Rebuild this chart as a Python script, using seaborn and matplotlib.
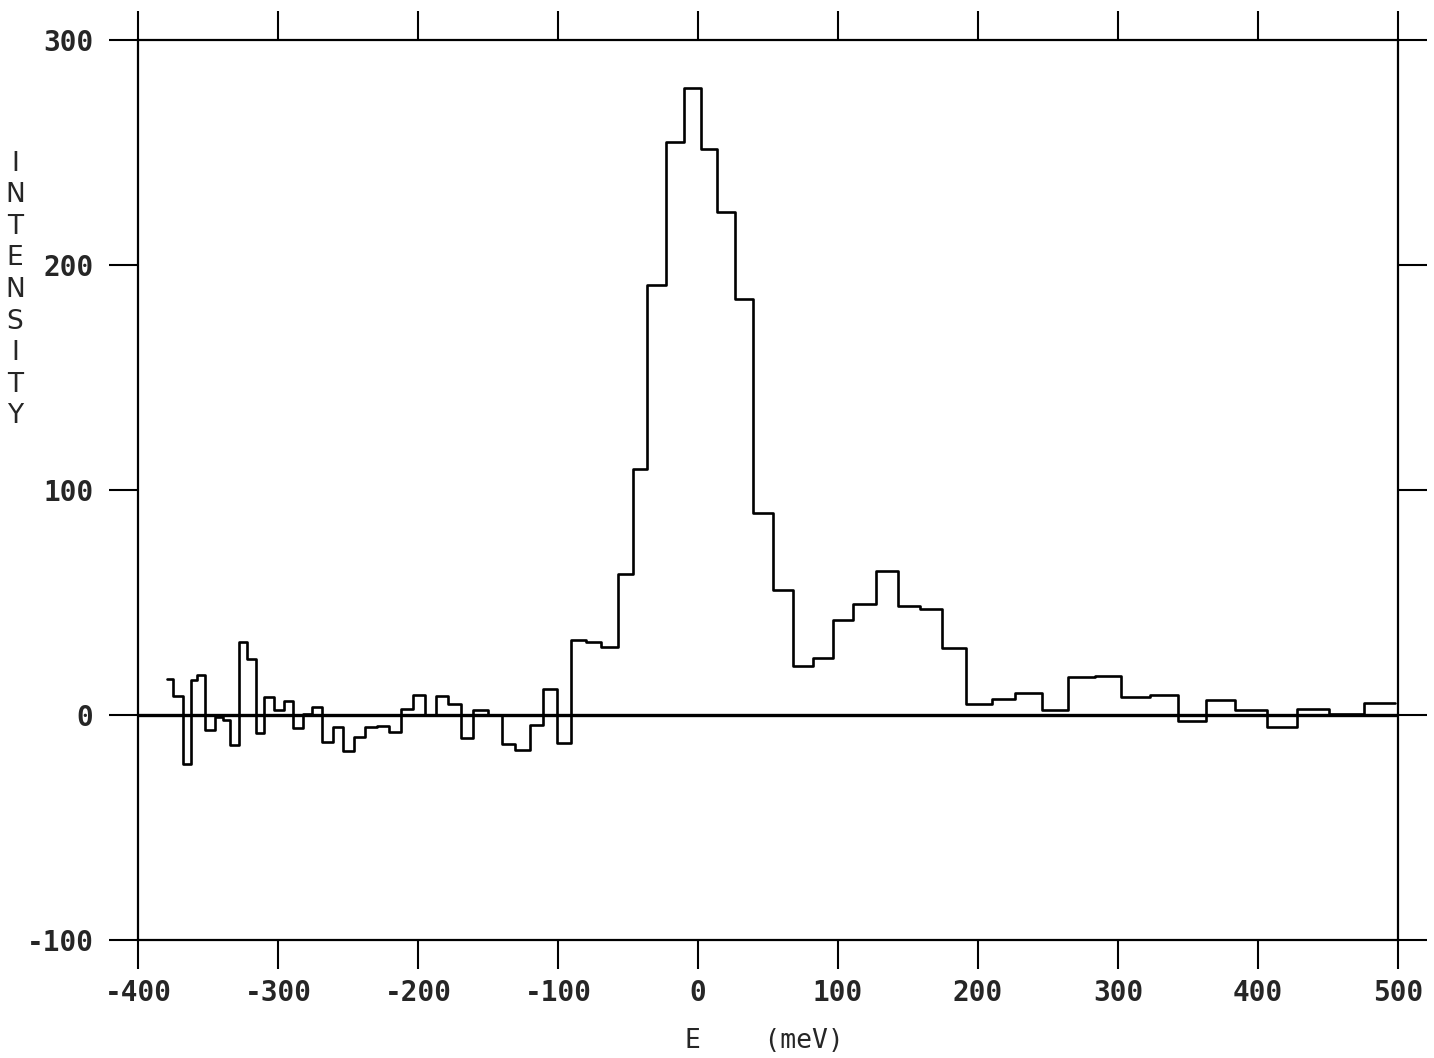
import numpy as np
import seaborn as sns
import matplotlib
matplotlib.use("Agg")
import matplotlib.pyplot as plt

# bin edges in E (meV) and the intensity of each bin
edges = [-379.5, -375.2, -368.0, -362.4, -358.0, -352.0, -345.0, -339.5, -334.3,
         -327.6, -322.4, -315.7, -309.8, -302.9, -295.7, -289.0, -282.4, -276.0,
         -268.8, -261.0, -253.3, -245.7, -237.9, -229.0, -220.5, -212.4, -203.3,
         -195.0, -187.1, -178.3, -169.5, -160.5, -149.8, -140.2, -130.7, -120.0,
         -110.7, -100.8, -90.8, -80.0, -69.3, -57.3, -46.7, -36.2, -22.9, -10.0,
         2.1, 13.3, 26.4, 39.0, 53.3, 67.6, 81.9, 96.2, 110.5, 127.1, 143.1,
         158.5, 174.0, 191.4, 209.8, 226.7, 245.5, 264.5, 283.5, 302.3, 322.9,
         343.0, 362.9, 383.6, 406.2, 428.0, 451.0, 476.0, 497.9]
intensity = [16.0, 8.4, -21.8, 15.6, 18.0, -6.7, -1.0, -2.0, -13.3,
             32.6, 24.7, -8.1, 7.9, 2.2, 6.4, -5.9, 0.3, 3.4,
             -11.9, -5.4, -15.9, -9.9, -5.4, -4.9, -7.4, 2.5, 8.9,
             0.0, 8.4, 4.9, -10.4, 2.2, 0.0, -12.9, -15.6, -4.4,
             11.4, -12.6, 33.3, 32.6, 30.1, 62.6, 109.2, 191.0, 254.6, 278.7,
             251.7, 223.4, 184.9, 90.0, 55.6, 21.8, 25.2, 42.2, 49.3, 64.0,
             48.4, 47.0, 29.9, 4.9, 7.0, 10.0, 2.2, 16.7, 17.3, 7.9,
             8.9, -2.5, 6.7, 2.2, -5.5, 2.5, 0.5, 5.5]

x_ticks = [-400, -300, -200, -100, 0, 100, 200, 300, 400, 500]
x_labels = ['-400', '-300', '-200', '-100', '0', '100', '200', '300', '400', '500']
y_ticks = [-100, 0, 100, 200, 300]
y_labels = ['-100', '0', '100', '200', '300']

sns.set_style("ticks")
plt.rcParams['font.family'] = ['DejaVu Sans Mono', 'DejaVu Sans']

centers = (np.array(edges[:-1]) + np.array(edges[1:])) / 2

fig, ax = plt.subplots(figsize=(14.34, 10.58), dpi=100)
fig.subplots_adjust(left=0.0962, right=0.9749, bottom=0.1115, top=0.9622)

sns.histplot(x=centers, weights=intensity, bins=edges, element="step",
             fill=False, color="black", linewidth=1.9, ax=ax)
ax.axhline(0, color="black", linewidth=2.4, zorder=1)

ax.set_xlim(-400, 500)
ax.set_ylim(-100, 300)
ax.set_xticks(x_ticks)
ax.set_xticklabels(x_labels, fontsize=20, fontweight="bold")
ax.set_yticks(y_ticks)
ax.set_yticklabels(y_labels, fontsize=20, fontweight="bold")
ax.tick_params(axis="both", direction="out", length=21, width=1.5, color="black",
               top=True, right=True, labeltop=False, labelright=False)
ax.tick_params(axis="x", pad=7)
ax.tick_params(axis="y", pad=11)
for s in ax.spines.values():
    s.set_visible(True)
    s.set_linewidth(1.6)
    s.set_color("black")

ax.set_ylabel("")
ax.set_xlabel("E    (meV)", fontsize=19)
ax.xaxis.set_label_coords(0.497, -0.098)

# vertical stacked axis title, as on the plotter output
fig.text(15 / 1434, 1 - 290 / 1058, "I\nN\nT\nE\nN\nS\nI\nT\nY",
         ha="center", va="center", fontsize=19, linespacing=1.28,
         family="DejaVu Sans")

fig.savefig("out.png", dpi=100)
